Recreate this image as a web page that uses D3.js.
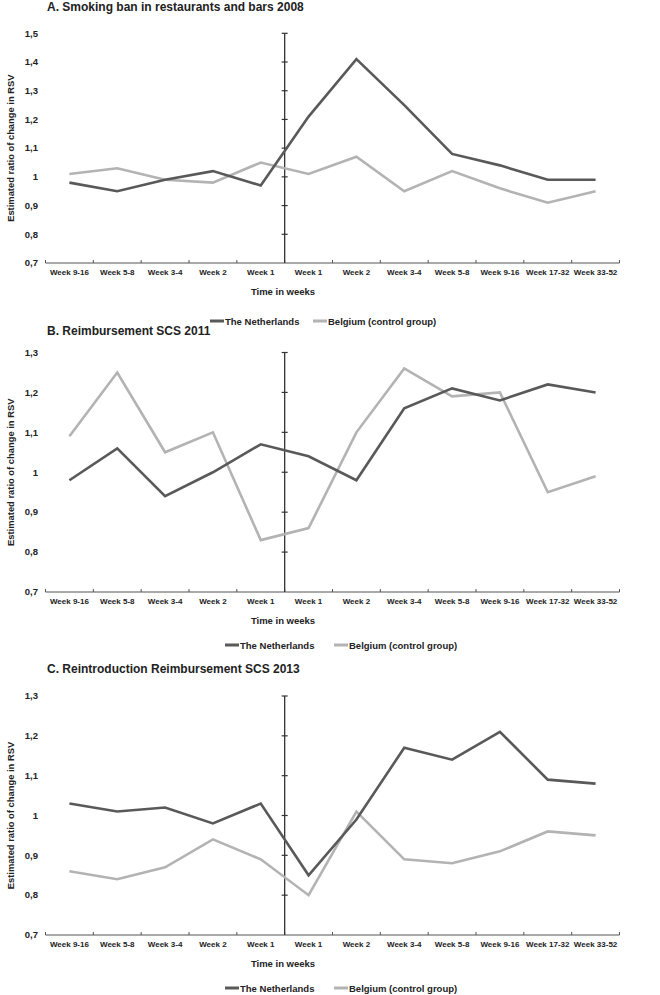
<!DOCTYPE html>
<html><head><meta charset="utf-8">
<script src="https://cdn.jsdelivr.net/npm/d3@7"></script>
<style>
html,body{margin:0;padding:0;background:#fff;}
svg text{font-family:"Liberation Sans",Arial,sans-serif;font-weight:bold;fill:#222;}
</style></head>
<body>
<script>
const weeks = ["Week 9-16","Week 5-8","Week 3-4","Week 2","Week 1","Week 1","Week 2","Week 3-4","Week 5-8","Week 9-16","Week 17-32","Week 33-52"];
const titles = ["A. Smoking ban in restaurants and bars 2008","B. Reimbursement SCS 2011","C. Reintroduction Reimbursement SCS 2013"];
const seriesNames = ["The Netherlands","Belgium (control group)"];
const nlA = [0.98,0.95,0.99,1.02,0.97,1.21,1.41,1.25,1.08,1.04,0.99,0.99];
const beA = [1.01,1.03,0.99,0.98,1.05,1.01,1.07,0.95,1.02,0.96,0.91,0.95];
const nlB = [0.98,1.06,0.94,1.00,1.07,1.04,0.98,1.16,1.21,1.18,1.22,1.20];
const beB = [1.09,1.25,1.05,1.10,0.83,0.86,1.10,1.26,1.19,1.20,0.95,0.99];
const nlC = [1.03,1.01,1.02,0.98,1.03,0.85,0.99,1.17,1.14,1.21,1.09,1.08];
const beC = [0.86,0.84,0.87,0.94,0.89,0.80,1.01,0.89,0.88,0.91,0.96,0.95];
const ticksA = [0.7,0.8,0.9,1.0,1.1,1.2,1.3,1.4,1.5];
const ticksBC = [0.7,0.8,0.9,1.0,1.1,1.2,1.3];

const W = 660, H = 995;
const colors = ["#595959","#b3b3b3"];
const panels = [
  {title:titles[0], nl:nlA, be:beA, ticks:ticksA, yTop:33.3, yBot:263, titleY:11, legendY:324.5, legendX:[210,313]},
  {title:titles[1], nl:nlB, be:beB, ticks:ticksBC, yTop:352.5, yBot:592, titleY:335, legendY:648.5, legendX:[225,334]},
  {title:titles[2], nl:nlC, be:beC, ticks:ticksBC, yTop:696, yBot:935, titleY:672.5, legendY:991.5, legendX:[225,334]}
];

const svg = d3.select("body").append("svg").attr("width",W).attr("height",H);
const x = d3.scaleBand().domain(d3.range(weeks.length)).range([45.5,619.5]).padding(0);
const fmt = v => (Math.round(v*10)/10 === 1 ? "1" : d3.format(".1f")(v).replace(".",","));

panels.forEach(p => {
  const g = svg.append("g");
  const y = d3.scaleLinear().domain([p.ticks[0], p.ticks[p.ticks.length-1]]).range([p.yBot, p.yTop]);

  g.append("text").attr("x",47).attr("y",p.titleY).attr("font-size",12).text(p.title);

  // y tick labels
  g.selectAll(".yl").data(p.ticks).join("text")
    .attr("x",38).attr("y",d=>y(d)).attr("dy","0.35em").attr("text-anchor","end")
    .attr("font-size",9.5).text(fmt);

  // y axis title
  g.append("text").attr("transform",`translate(11,${(p.yTop+p.yBot)/2}) rotate(-90)`)
    .attr("text-anchor","middle").attr("dy","0.35em").attr("font-size",9.4)
    .text("Estimated ratio of change in RSV");

  // x axis
  const xb = x.range();
  g.append("line").attr("x1",xb[0]).attr("x2",xb[1]).attr("y1",p.yBot).attr("y2",p.yBot)
    .attr("stroke","#555").attr("stroke-width",1.2);
  const bounds = d3.range(weeks.length+1).map(i => i < weeks.length ? x(i) : x(i-1)+x.bandwidth());
  g.selectAll(".xt").data(bounds).join("line")
    .attr("x1",d=>d).attr("x2",d=>d).attr("y1",p.yBot).attr("y2",p.yBot-3)
    .attr("stroke","#555").attr("stroke-width",1);
  g.selectAll(".xl").data(weeks).join("text")
    .attr("x",(d,i)=>x(i)+x.bandwidth()/2).attr("y",p.yBot+12)
    .attr("text-anchor","middle").attr("font-size",8).text(d=>d);
  g.append("text").attr("x",283).attr("y",p.yBot+32).attr("text-anchor","middle")
    .attr("font-size",9.5).text("Time in weeks");

  // intervention vertical axis
  const vx = x(5);
  g.append("line").attr("x1",vx).attr("x2",vx).attr("y1",y(p.ticks[p.ticks.length-1])).attr("y2",p.yBot)
    .attr("stroke","#333").attr("stroke-width",1.3);
  g.selectAll(".vt").data(p.ticks.slice(1)).join("line")
    .attr("x1",vx-3).attr("x2",vx+3).attr("y1",d=>y(d)).attr("y2",d=>y(d))
    .attr("stroke","#333").attr("stroke-width",1.2);

  // lines
  const line = d3.line().x((d,i)=>x(i)+x.bandwidth()/2).y(d=>y(d));
  [p.be, p.nl].forEach((s,k) => {
    g.append("path").datum(s).attr("d",line).attr("fill","none")
      .attr("stroke", k===0 ? colors[1] : colors[0]).attr("stroke-width",2.6)
      .attr("stroke-linejoin","miter");
  });

  // legend
  seriesNames.forEach((n,k) => {
    const lx = p.legendX[k];
    g.append("line").attr("x1",lx).attr("x2",lx+14).attr("y1",p.legendY-3.5).attr("y2",p.legendY-3.5)
      .attr("stroke",colors[k]).attr("stroke-width",3);
    g.append("text").attr("x",lx+15).attr("y",p.legendY).attr("font-size",9.5).text(n);
  });
});
</script>
</body></html>
